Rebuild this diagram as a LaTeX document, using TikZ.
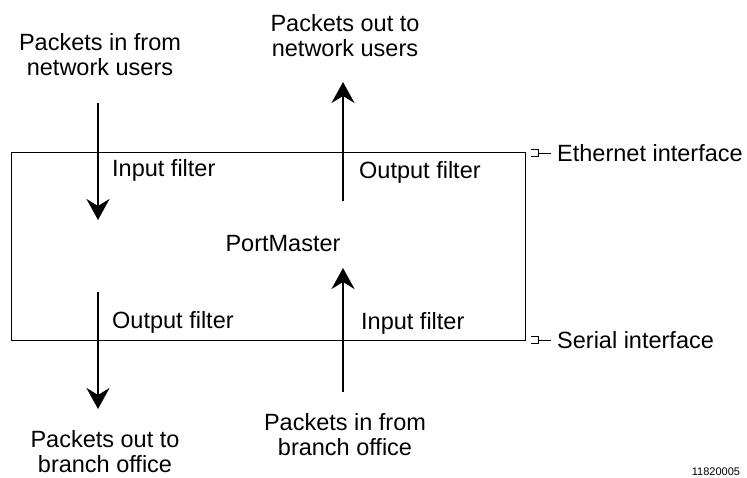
\documentclass[tikz,border=0pt]{standalone}
\usepackage{fontspec}
\setmainfont{Liberation Sans}
\usetikzlibrary{arrows.meta}
\tikzset{
    label text/.style = {inner sep = 0pt, font = \fontsize{23.5}{25}\selectfont},
    flow/.style = {line width = 2.3pt, -{Stealth[length = 21pt, width = 23pt, inset = 7pt]}}
}
\begin{document}
\begin{tikzpicture}[x = 1pt, y = -1pt]
            \useasboundingbox (0,0) rectangle (747,477);
            \draw[line width = 1pt] (11,152) rectangle (525,340);
            \node[label text] (portmaster) at (283,244) {PortMaster};
            % network side
            \node[label text, align = center] (inusers) at (100,55) {Packets in from\\network users};
            \node[label text, align = center] (outusers) at (345,36) {Packets out to\\network users};
            \coordinate (a1) at (98,103);
            \coordinate (a2) at (98,220);
            \coordinate (b1) at (343,201);
            \coordinate (b2) at (343,82);
            \draw[flow] (a1) -- (a2);
            \draw[flow] (b1) -- (b2);
            \node[label text, anchor = west] (infilter) at (112,170) {Input filter};
            \node[label text, anchor = west] (outfilter) at (359,172) {Output filter};
            % branch side
            \coordinate (c1) at (98,292);
            \coordinate (c2) at (98,409);
            \coordinate (d1) at (343,392);
            \coordinate (d2) at (343,268);
            \draw[flow] (c1) -- (c2);
            \draw[flow] (d1) -- (d2);
            \node[label text, anchor = west] (outfilter2) at (112,322) {Output filter};
            \node[label text, anchor = west] (infilter2) at (361,323) {Input filter};
            \node[label text, align = center] (outbranch) at (105,452) {Packets out to\\branch office};
            \node[label text, align = center] (inbranch) at (345,435) {Packets in from\\branch office};
            % interface marks
            \draw[line width = 1pt] (531,149.5) -- (538,149.5) -- (538,156.5) -- (531,156.5);
            \draw[line width = 1pt] (538,153) -- (551,153);
            \node[label text, anchor = west] (ether) at (557,153) {Ethernet interface};
            \draw[line width = 1pt] (531,336.5) -- (538,336.5) -- (538,343.5) -- (531,343.5);
            \draw[line width = 1pt] (538,340) -- (551,340);
            \node[label text, anchor = west] (serial) at (557,340) {Serial interface};
            \node[inner sep = 0pt, anchor = south, font = \fontsize{11}{11}\selectfont] (fig) at (716,476) {11820005};
        \end{tikzpicture}
\end{document}
